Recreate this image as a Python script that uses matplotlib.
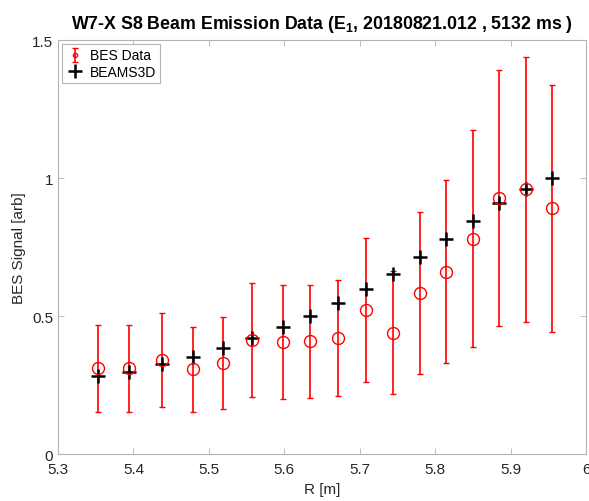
import numpy as np
import matplotlib
matplotlib.use("Agg")
import matplotlib.pyplot as plt

plt.rcParams['font.family'] = ['Liberation Sans', 'DejaVu Sans']

# Data
R = [5.3528, 5.3946, 5.4376, 5.4787, 5.5185, 5.5578, 5.5976, 5.6343, 5.6711,
     5.7081, 5.7439, 5.7797, 5.8146, 5.8500, 5.8849, 5.9198, 5.9548]
bes_data = [0.311, 0.311, 0.340, 0.307, 0.329, 0.412, 0.406, 0.408, 0.419,
            0.522, 0.440, 0.583, 0.661, 0.781, 0.928, 0.959, 0.890]
bes_err = [0.157, 0.157, 0.170, 0.155, 0.166, 0.207, 0.205, 0.206, 0.210,
           0.262, 0.222, 0.293, 0.332, 0.392, 0.465, 0.480, 0.446]
beams3d = [0.281, 0.299, 0.325, 0.353, 0.384, 0.422, 0.460, 0.502, 0.548,
           0.599, 0.654, 0.714, 0.781, 0.846, 0.910, 0.959, 1.002]

x_ticks = [5.3, 5.4, 5.5, 5.6, 5.7, 5.8, 5.9, 6.0]
x_labels = ['5.3', '5.4', '5.5', '5.6', '5.7', '5.8', '5.9', '6']
y_ticks = [0, 0.5, 1.0, 1.5]
y_labels = ['0', '0.5', '1', '1.5']

text_col = '#262626'
axis_col = '#b3b3b3'

fig = plt.figure(figsize=(5.89, 5.02), dpi=100)
ax = fig.add_axes([0.0985, 0.0936, 0.8965, 0.8244])

ax.errorbar(R, bes_data, yerr=bes_err, fmt='o', color='red', mfc='none',
            markersize=8.6, markeredgewidth=1.0, elinewidth=1.2, capsize=2,
            capthick=1.2)
ax.plot(R, beams3d, '+', color='black', markersize=10, markeredgewidth=1.8)

# legend proxies (small marker like the MATLAB legend)
h_bes = ax.errorbar([np.nan], [np.nan], yerr=[0.1], fmt='o', color='red',
                    mfc='none', markersize=3, markeredgewidth=1.0,
                    elinewidth=1.2, capsize=2, capthick=1.2)
h_b3d, = ax.plot([np.nan], [np.nan], '+', color='black', markersize=10,
                 markeredgewidth=1.8)

ax.set_xlim(5.3, 6.0)
ax.set_ylim(0, 1.5)
ax.set_xticks(x_ticks)
ax.set_xticklabels(x_labels)
ax.set_yticks(y_ticks)
ax.set_yticklabels(y_labels)

ax.tick_params(direction='in', top=True, right=True, length=4, width=0.6,
               color=axis_col, labelcolor=text_col, labelsize=11)
ax.tick_params(axis='x', pad=6)
for sp in ax.spines.values():
    sp.set_color(axis_col)
    sp.set_linewidth(0.8)

ax.set_xlabel('R [m]', fontsize=11, color=text_col, labelpad=4)
ax.set_ylabel('BES Signal [arb]', fontsize=11, color=text_col, labelpad=4)
ax.set_title('W7-X S8 Beam Emission Data (E$_\\mathregular{1}$, 20180821.012 , 5132 ms )',
             fontsize=12.8, fontweight='bold', color='black', pad=9)

leg = ax.legend([h_bes, h_b3d], ['BES Data', 'BEAMS3D'], loc='upper left',
                fancybox=False, framealpha=1, edgecolor=axis_col,
                fontsize=10, handlelength=1.2, handletextpad=0.5, borderpad=0.3,
                labelspacing=0.2, borderaxespad=0.3)
leg.get_frame().set_linewidth(0.8)

fig.savefig('out.png', dpi=100)
